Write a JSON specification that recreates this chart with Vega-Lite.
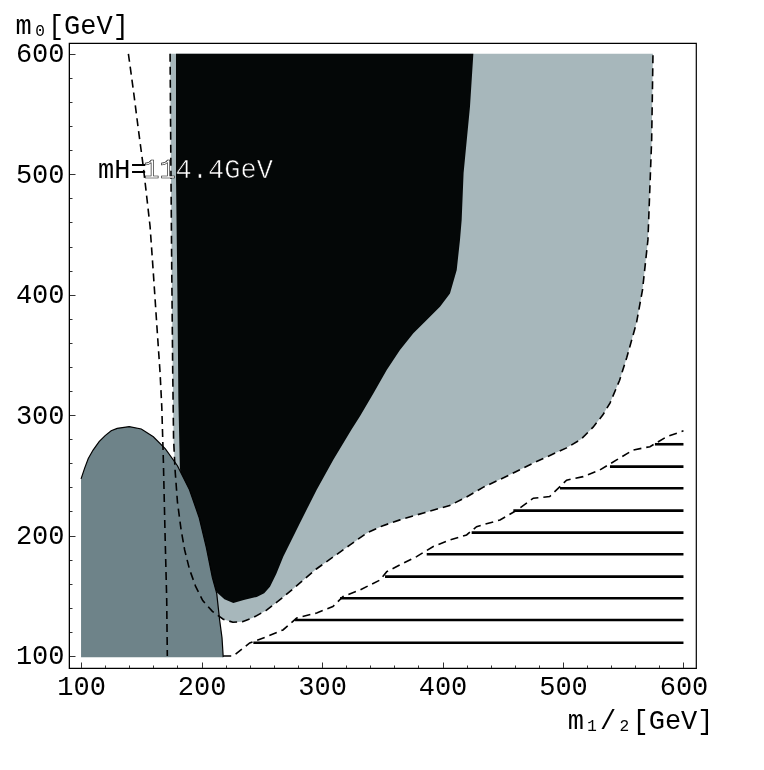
{
  "$schema": "https://vega.github.io/schema/vega-lite/v6.json",
  "width": 627,
  "height": 625,
  "autosize": {"type": "none"},
  "padding": {"left": 69, "top": 43, "right": 68, "bottom": 102},
  "background": "white",
  "config": {
    "view": {"stroke": "black", "strokeWidth": 1.2},
    "axis": {
      "grid": false,
      "domainColor": "black",
      "tickColor": "#333333",
      "labelFont": "Liberation Mono",
      "labelFontSize": 27,
      "labelColor": "black",
      "titleFont": "Liberation Mono",
      "titleFontSize": 27,
      "titleFontWeight": "normal",
      "titleColor": "black"
    }
  },
  "datasets": {
    "gray": [
      {"x":173.9,"y":600,"o":1},{"x":174.4,"y":528,"o":2},{"x":175.3,"y":418,"o":3},{"x":176.1,"y":335,"o":4},{"x":176.8,"y":280,"o":5},{"x":178,"y":255,"o":6},{"x":180,"y":228,"o":7},{"x":183,"y":205,"o":8},{"x":186,"y":188,"o":9},{"x":190,"y":172,"o":10},{"x":195,"y":158,"o":11},{"x":201,"y":146,"o":12},{"x":209,"y":137,"o":13},{"x":218,"y":130.5,"o":14},{"x":226,"y":128,"o":15},{"x":234,"y":128.5,"o":16},{"x":243,"y":132,"o":17},{"x":254,"y":138,"o":18},{"x":268,"y":149,"o":19},{"x":281.7,"y":160.6,"o":20},{"x":295,"y":172,"o":21},{"x":309,"y":182,"o":22},{"x":323,"y":192,"o":23},{"x":337,"y":202,"o":24},{"x":350,"y":208,"o":25},{"x":364.7,"y":213,"o":26},{"x":385,"y":219,"o":27},{"x":406,"y":225,"o":28},{"x":420,"y":232,"o":29},{"x":433.6,"y":240,"o":30},{"x":455,"y":250,"o":31},{"x":475,"y":260,"o":32},{"x":503,"y":272.8,"o":33},{"x":515,"y":280,"o":34},{"x":525,"y":290,"o":35},{"x":533,"y":300,"o":36},{"x":539,"y":310,"o":37},{"x":547,"y":329,"o":38},{"x":553,"y":348,"o":39},{"x":561,"y":376.6,"o":40},{"x":566,"y":404,"o":41},{"x":570.5,"y":445.5,"o":42},{"x":573.6,"y":528.6,"o":43},{"x":574.7,"y":600,"o":44}
    ],
    "black": [
      {"x":178.8,"y":600,"o":1},{"x":178.8,"y":500,"o":2},{"x":180,"y":400,"o":3},{"x":180.8,"y":312,"o":4},{"x":182,"y":257,"o":5},{"x":184,"y":235,"o":6},{"x":187.7,"y":219,"o":7},{"x":193.4,"y":196,"o":8},{"x":198.8,"y":180,"o":9},{"x":205,"y":167,"o":10},{"x":212.6,"y":153,"o":11},{"x":219,"y":147,"o":12},{"x":226.4,"y":144,"o":13},{"x":235,"y":146.5,"o":14},{"x":245.8,"y":149,"o":15},{"x":252,"y":152,"o":16},{"x":256.8,"y":157.5,"o":17},{"x":262,"y":168,"o":18},{"x":267.9,"y":182.5,"o":19},{"x":281.7,"y":210.5,"o":20},{"x":295.6,"y":238,"o":21},{"x":309.4,"y":263,"o":22},{"x":324.5,"y":288,"o":23},{"x":331.5,"y":299,"o":24},{"x":342.6,"y":318,"o":25},{"x":353.7,"y":337.5,"o":26},{"x":364.7,"y":354,"o":27},{"x":375.8,"y":368,"o":28},{"x":386.9,"y":379,"o":29},{"x":397.9,"y":390,"o":30},{"x":406.2,"y":401,"o":31},{"x":411.8,"y":420.6,"o":32},{"x":414.5,"y":445.5,"o":33},{"x":415.9,"y":462,"o":34},{"x":417.5,"y":501,"o":35},{"x":422.8,"y":556,"o":36},{"x":425.6,"y":600,"o":37}
    ],
    "slate": [
      {"x":100,"y":99,"o":0},{"x":100,"y":247,"o":1},{"x":103,"y":256,"o":2},{"x":106,"y":264,"o":3},{"x":110,"y":271,"o":4},{"x":115,"y":278,"o":5},{"x":120,"y":283,"o":6},{"x":125,"y":287,"o":7},{"x":130,"y":289,"o":8},{"x":140,"y":290.5,"o":9},{"x":150,"y":288.5,"o":10},{"x":160,"y":282,"o":11},{"x":170,"y":272,"o":12},{"x":180,"y":258,"o":13},{"x":190,"y":238,"o":14},{"x":198,"y":215,"o":15},{"x":204,"y":190,"o":16},{"x":209,"y":165,"o":17},{"x":212.6,"y":152,"o":18},{"x":215,"y":130,"o":19},{"x":217,"y":115,"o":20},{"x":218,"y":99,"o":21}
    ],
    "mh": [
      {"x":139.3,"y":600,"o":1},{"x":143.4,"y":570,"o":2},{"x":147.6,"y":537,"o":3},{"x":151.7,"y":506,"o":4},{"x":154.5,"y":481.5,"o":5},{"x":157.3,"y":456.6,"o":6},{"x":160,"y":418,"o":7},{"x":162.8,"y":376,"o":8},{"x":165.6,"y":335,"o":9},{"x":167,"y":307,"o":10},{"x":168.3,"y":263,"o":11},{"x":169.7,"y":202,"o":12},{"x":171.1,"y":146.5,"o":13},{"x":171.6,"y":100,"o":14}
    ],
    "stair": [
      {"x":218,"y":100,"o":1},{"x":226.4,"y":100,"o":2},{"x":240,"y":110.8,"o":3},{"x":254,"y":116,"o":4},{"x":267.6,"y":121.6,"o":5},{"x":279,"y":131.5,"o":6},{"x":295.6,"y":135.7,"o":7},{"x":309,"y":141,"o":8},{"x":317.5,"y":149.4,"o":9},{"x":331.5,"y":154.8,"o":10},{"x":348,"y":163,"o":11},{"x":353.7,"y":170,"o":12},{"x":364.7,"y":175.6,"o":13},{"x":378.5,"y":182.5,"o":14},{"x":392,"y":190.7,"o":15},{"x":406,"y":196.3,"o":16},{"x":420,"y":200.5,"o":17},{"x":428.3,"y":207.4,"o":18},{"x":447.7,"y":212.9,"o":19},{"x":461.6,"y":221,"o":20},{"x":475.4,"y":231,"o":21},{"x":489,"y":232.4,"o":22},{"x":503,"y":246,"o":23},{"x":516.8,"y":248.9,"o":24},{"x":530.7,"y":254.5,"o":25},{"x":544.5,"y":262.8,"o":26},{"x":558.3,"y":271,"o":27},{"x":572.2,"y":273.8,"o":28},{"x":586,"y":282,"o":29},{"x":600,"y":287,"o":30}
    ],
    "hatch": [
      {"x":243,"x2":600,"y":111},{"x":277.6,"x2":600,"y":129.9},{"x":315,"x2":600,"y":147.9},{"x":352.3,"x2":600,"y":165.9},{"x":386.9,"x2":600,"y":184.5},{"x":424.2,"x2":600,"y":202.4},{"x":458.8,"x2":600,"y":220.7},{"x":497.5,"x2":600,"y":239.3},{"x":539,"x2":600,"y":257.2},{"x":576.3,"x2":600,"y":275.8}
    ],
    "labels": [
      {"x":114.1,"y":497,"t":"mH="},
      {"x":151.6,"y":497,"t":"114.4GeV"}
    ]
  },
  "encoding": {
    "x": {
      "type": "quantitative",
      "scale": {"domain": [90, 610.4], "nice": false, "zero": false},
      "axis": {
        "values": [100,120,140,160,180,200,220,240,260,280,300,320,340,360,380,400,420,440,460,480,500,520,540,560,580,600],
        "labelExpr": "datum.value % 100 === 0 ? datum.label : ''",
        "tickSize": {"condition": {"test": "datum.value % 100 === 0", "value": -6}, "value": -3},
        "labelPadding": 11,
        "labelFlush": false,
        "title": "m₁/₂[GeV]",
        "titleAnchor": "end",
        "titleAlign": "right",
        "titleBaseline": "alphabetic",
        "titleX": 644,
        "titleY": 60
      }
    },
    "y": {
      "type": "quantitative",
      "scale": {"domain": [90, 609], "nice": false, "zero": false},
      "axis": {
        "values": [100,120,140,160,180,200,220,240,260,280,300,320,340,360,380,400,420,440,460,480,500,520,540,560,580,600],
        "labelExpr": "datum.value % 100 === 0 ? datum.label : ''",
        "tickSize": {"condition": {"test": "datum.value % 100 === 0", "value": -6}, "value": -3},
        "labelPadding": 11,
        "labelFlush": false,
        "title": "m₀[GeV]",
        "titleAngle": 0,
        "titleAlign": "left",
        "titleBaseline": "alphabetic",
        "titleX": -54,
        "titleY": -10
      }
    }
  },
  "layer": [
    {
      "data": {"name": "gray"},
      "mark": {"type": "line", "interpolate": "linear-closed", "fill": "#a7b7bb", "strokeOpacity": 0, "clip": true},
      "encoding": {"x": {"field": "x"}, "y": {"field": "y"}, "order": {"field": "o"}}
    },
    {
      "data": {"name": "black"},
      "mark": {"type": "line", "interpolate": "linear-closed", "fill": "#040707", "strokeOpacity": 0, "clip": true},
      "encoding": {"x": {"field": "x"}, "y": {"field": "y"}, "order": {"field": "o"}}
    },
    {
      "data": {"name": "slate"},
      "mark": {"type": "line", "interpolate": "linear-closed", "fill": "#6e8389", "blend": "multiply", "strokeOpacity": 0, "clip": true},
      "encoding": {"x": {"field": "x"}, "y": {"field": "y"}, "order": {"field": "o"}}
    },
    {
      "data": {"name": "slate"},
      "transform": [{"filter": "datum.o > 0"}],
      "mark": {"type": "line", "color": "black", "strokeWidth": 1.2},
      "encoding": {"x": {"field": "x"}, "y": {"field": "y"}, "order": {"field": "o"}}
    },
    {
      "data": {"name": "gray"},
      "mark": {"type": "line", "color": "black", "strokeWidth": 1.6, "strokeDash": [8, 5]},
      "encoding": {"x": {"field": "x"}, "y": {"field": "y"}, "order": {"field": "o"}}
    },
    {
      "data": {"name": "mh"},
      "mark": {"type": "line", "color": "black", "strokeWidth": 1.6, "strokeDash": [8, 5]},
      "encoding": {"x": {"field": "x"}, "y": {"field": "y"}, "order": {"field": "o"}}
    },
    {
      "data": {"name": "stair"},
      "mark": {"type": "line", "color": "black", "strokeWidth": 1.6, "strokeDash": [8, 5]},
      "encoding": {"x": {"field": "x"}, "y": {"field": "y"}, "order": {"field": "o"}}
    },
    {
      "data": {"name": "hatch"},
      "mark": {"type": "rule", "color": "black", "strokeWidth": 2.6},
      "encoding": {"x": {"field": "x"}, "x2": {"field": "x2"}, "y": {"field": "y"}}
    },
    {
      "data": {"name": "labels"},
      "transform": [{"filter": "datum.t === 'mH='"}],
      "mark": {"type": "text", "font": "Liberation Mono", "fontSize": 27, "align": "left", "baseline": "alphabetic", "color": "black"},
      "encoding": {"x": {"field": "x"}, "y": {"field": "y"}, "text": {"field": "t"}}
    },
    {
      "data": {"name": "labels"},
      "transform": [{"filter": "datum.t !== 'mH='"}],
      "mark": {"type": "text", "font": "Liberation Mono", "fontSize": 27, "align": "left", "baseline": "alphabetic", "color": "white", "stroke": "black", "strokeWidth": 0.6},
      "encoding": {"x": {"field": "x"}, "y": {"field": "y"}, "text": {"field": "t"}}
    }
  ]
}
